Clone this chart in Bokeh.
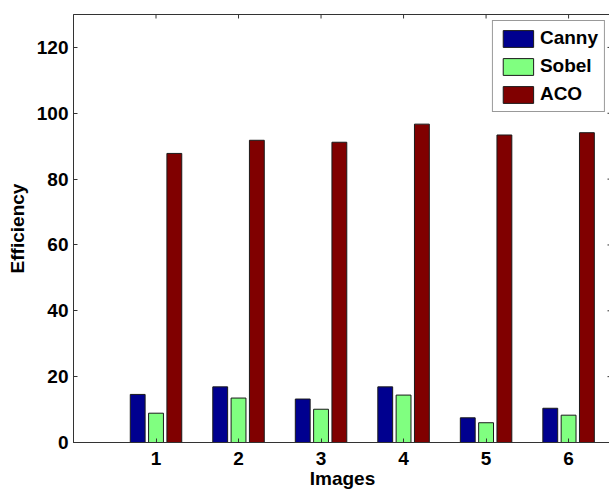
import math
from bokeh.plotting import figure
from bokeh.models import Range1d, FixedTicker, ColumnDataSource, Legend, LegendItem
from bokeh.transform import dodge
from bokeh.embed import file_html
from bokeh.resources import INLINE

images = [1, 2, 3, 4, 5, 6]
canny = [14.6, 16.9, 13.2, 16.9, 7.5, 10.4]
sobel = [8.9, 13.5, 10.1, 14.4, 6.0, 8.3]
aco = [87.8, 91.8, 91.2, 96.7, 93.4, 94.1]
series_names = ["Canny", "Sobel", "ACO"]
colors = ["#00008F", "#80FF80", "#800000"]
y_ticks = [0, 20, 40, 60, 80, 100, 120]

FONT = "Liberation Sans"
X_MAX = 6.52
Y_MAX = 130

src = ColumnDataSource(dict(x=images, canny=canny, sobel=sobel, aco=aco))

p = figure(width=611, height=491, output_backend="svg", toolbar_location=None,
           x_range=Range1d(0, X_MAX), y_range=Range1d(0, Y_MAX),
           min_border_left=73, min_border_top=14, min_border_right=0, min_border_bottom=48)
p.xgrid.visible = False
p.ygrid.visible = False
p.outline_line_color = "#333333"
p.outline_line_width = 1
p.background_fill_color = "white"
p.border_fill_color = "white"

offs = [-0.222, 0.0, 0.222]
renderers = []
for key, off, col in zip(["canny", "sobel", "aco"], offs, colors):
    r = p.vbar(x=dodge("x", off, range=p.x_range), top=key, bottom=0, width=0.18,
               source=src, fill_color=col, line_color="#1a1a1a", line_width=1)
    renderers.append(r)

# inward tick marks on the top and right edges (MATLAB box style)
p.ray(x=images, y=[Y_MAX] * len(images), length=4, length_units="screen",
      angle=-math.pi / 2, line_color="#333333", line_width=1)
p.ray(x=[X_MAX] * len(y_ticks), y=y_ticks, length=4, length_units="screen",
      angle=math.pi, line_color="#333333", line_width=1)

for ax in (p.xaxis[0], p.yaxis[0]):
    ax.axis_line_color = "#333333"
    ax.major_tick_line_color = "#333333"
    ax.major_tick_in = 4
    ax.major_tick_out = 0
    ax.minor_tick_line_color = None
    ax.major_label_text_font = FONT
    ax.major_label_text_font_style = "bold"
    ax.major_label_text_font_size = "19px"
    ax.major_label_text_color = "black"
    ax.axis_label_text_font = FONT
    ax.axis_label_text_font_style = "bold"
    ax.axis_label_text_font_size = "19px"
    ax.axis_label_text_color = "black"

p.yaxis.ticker = FixedTicker(ticks=y_ticks)
p.xaxis.ticker = FixedTicker(ticks=images)
p.yaxis.major_label_standoff = 5
p.xaxis.major_label_standoff = 9
p.xaxis.axis_label = "Images"
p.yaxis.axis_label = "Efficiency"
p.xaxis.axis_label_standoff = 0
p.yaxis.axis_label_standoff = 6

legend = Legend(items=[LegendItem(label=n, renderers=[r]) for n, r in zip(series_names, renderers)],
                location="top_right")
legend.margin = 6
legend.padding = 6
legend.spacing = 6
legend.glyph_width = 38
legend.glyph_height = 21
legend.label_height = 21
legend.label_standoff = 3
legend.label_text_font = FONT
legend.label_text_font_style = "bold"
legend.label_text_font_size = "19px"
legend.label_text_color = "black"
legend.border_line_color = "#333333"
legend.border_line_width = 1
legend.background_fill_color = "white"
legend.background_fill_alpha = 1
p.add_layout(legend, "center")

open("out.html", "w").write(file_html(p, INLINE))
